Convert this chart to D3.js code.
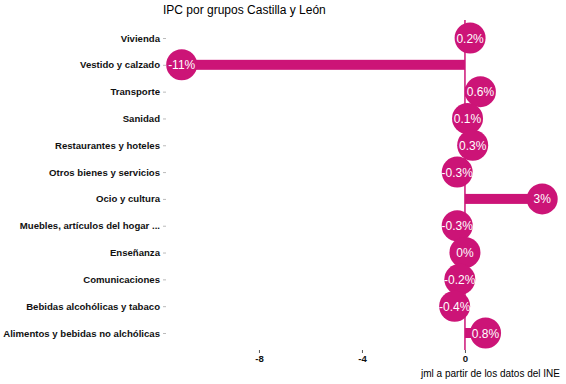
<!DOCTYPE html>
<html>
<head>
<meta charset="utf-8">
<script src="https://d3js.org/d3.v7.min.js"></script>
<style>
  body { margin: 0; background: #fff; }
  text { font-family: "Liberation Sans", Arial, sans-serif; }
</style>
</head>
<body>
<div id="chart"></div>
<script>
var grupos = ["Vivienda", "Vestido y calzado", "Transporte", "Sanidad", "Restaurantes y hoteles",
  "Otros bienes y servicios", "Ocio y cultura", "Muebles, artículos del hogar ...", "Enseñanza",
  "Comunicaciones", "Bebidas alcohólicas y tabaco", "Alimentos y bebidas no alchólicas"];
var valores = [0.2, -11, 0.6, 0.1, 0.3, -0.3, 3, -0.3, 0, -0.2, -0.4, 0.8];
var ticksX = [-8, -4, 0];

var width = 566, height = 384;
var color = "#cc1477";

var svg = d3.select("#chart").append("svg")
  .attr("width", width)
  .attr("height", height);

var x = d3.scaleLinear().domain([-11, 3]).range([181.7, 542.2]);
var y = d3.scalePoint().domain(grupos).range([38, 333]);

var datos = grupos.map(function(g, i) { return { grupo: g, valor: valores[i] }; });

svg.append("text")
  .attr("x", 163).attr("y", 14)
  .style("font-size", "12px")
  .text("IPC por grupos Castilla y León");

// eje y
var gy = svg.append("g").attr("transform", "translate(166,0)")
  .call(d3.axisLeft(y).tickSize(3).tickPadding(3));
gy.select(".domain").remove();
gy.selectAll(".tick line").attr("stroke", "#bbb");
gy.selectAll("text").style("font-size", "9.6px").style("font-weight", "bold").attr("fill", "#111");

// eje x
var gx = svg.append("g").attr("transform", "translate(0,350)")
  .call(d3.axisBottom(x).tickValues(ticksX).tickSize(3).tickPadding(2).tickFormat(function(d) { return String(d); }));
gx.select(".domain").remove();
gx.selectAll(".tick line").attr("stroke", "#555");
gx.selectAll("text").style("font-size", "9.6px").style("font-weight", "bold").attr("fill", "#111");

// línea cero
svg.append("line")
  .attr("x1", x(0)).attr("x2", x(0))
  .attr("y1", 20).attr("y2", 350)
  .attr("stroke", color).attr("stroke-width", 1.5);

svg.selectAll(".barra").data(datos).enter().append("rect")
  .attr("class", "barra")
  .attr("x", function(d) { return Math.min(x(0), x(d.valor)); })
  .attr("width", function(d) { return Math.abs(x(d.valor) - x(0)); })
  .attr("y", function(d) { return y(d.grupo) - 5; })
  .attr("height", 10)
  .attr("fill", color);

svg.selectAll(".punto").data(datos).enter().append("circle")
  .attr("class", "punto")
  .attr("cx", function(d) { return x(d.valor); })
  .attr("cy", function(d) { return y(d.grupo); })
  .attr("r", 15.5)
  .attr("fill", color);

svg.selectAll(".etiqueta").data(datos).enter().append("text")
  .attr("class", "etiqueta")
  .attr("x", function(d) { return x(d.valor); })
  .attr("y", function(d) { return y(d.grupo) + 4.5; })
  .attr("text-anchor", "middle")
  .attr("fill", "#fff")
  .style("font-size", "12px")
  .text(function(d) { return d.valor + "%"; });

svg.append("text")
  .attr("x", 560).attr("y", 377)
  .attr("text-anchor", "end")
  .style("font-size", "10px")
  .text("jml a partir de los datos del INE");
</script>
</body>
</html>
